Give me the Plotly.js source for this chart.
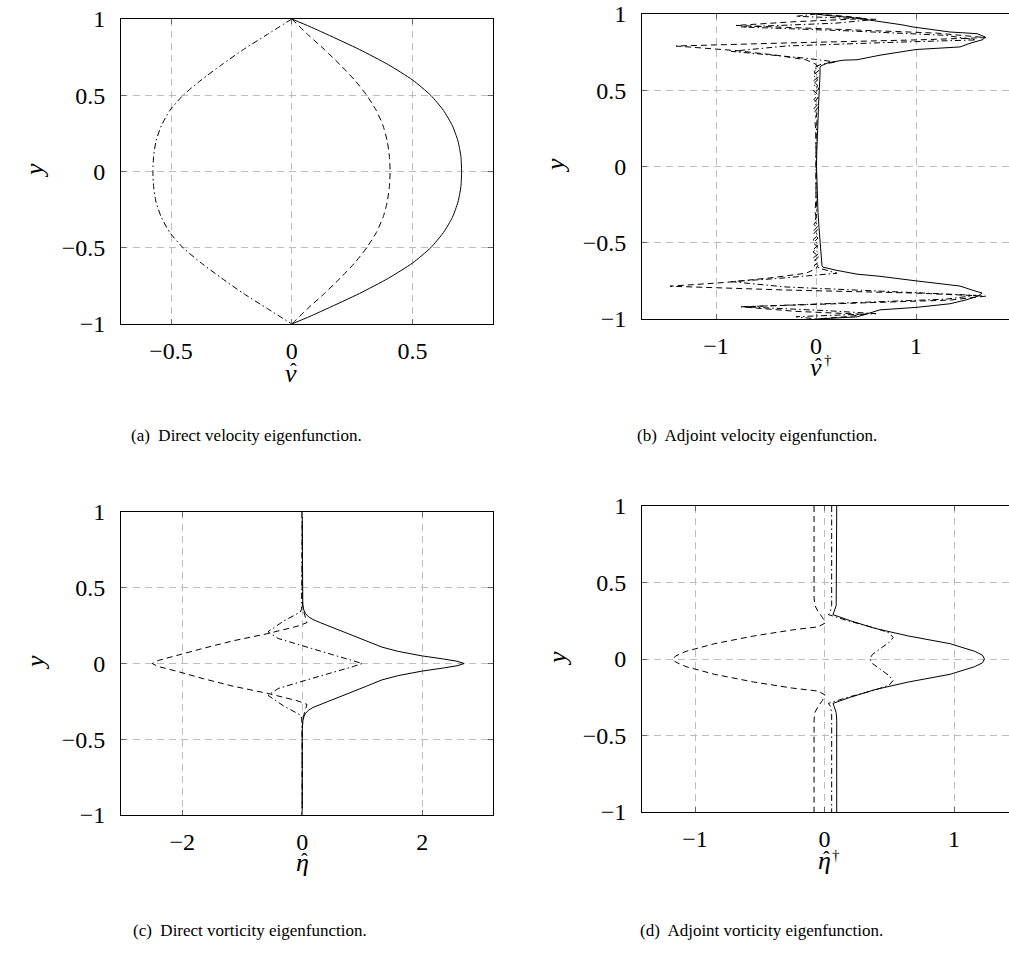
<!DOCTYPE html>
<html>
<head>
<meta charset="utf-8">
<script src="https://cdn.plot.ly/plotly-3.0.1.min.js"></script>
<style>
  html, body { margin: 0; padding: 0; overflow: hidden; background: #fff; }
  #fig { width: 1060px; height: 957px; }
</style>
</head>
<body>
<div id="fig"></div>
<script>
// ---- (a) direct velocity eigenfunction: |v|, Re(v), Im(v) against y ----
const vAbsY  = [1, 0.95, 0.9, 0.8, 0.7, 0.6, 0.5, 0.4, 0.3, 0.2, 0.1, 0,
                -0.1, -0.2, -0.3, -0.4, -0.5, -0.6, -0.7, -0.8, -0.9, -0.95, -1];
const vAbsX  = [0, 0.075, 0.145, 0.28, 0.40, 0.50, 0.575, 0.628, 0.665, 0.688, 0.700, 0.703,
                0.700, 0.688, 0.665, 0.628, 0.575, 0.50, 0.40, 0.28, 0.145, 0.075, 0];
const vReY   = [1, 0.9, 0.8, 0.7, 0.6, 0.5, 0.4, 0.3, 0.2, 0.1, 0,
                -0.1, -0.2, -0.3, -0.4, -0.5, -0.6, -0.7, -0.8, -0.9, -1];
const vReX   = [0, 0.065, 0.135, 0.20, 0.26, 0.31, 0.35, 0.378, 0.395, 0.404, 0.407,
                0.404, 0.395, 0.378, 0.35, 0.31, 0.26, 0.20, 0.135, 0.065, 0];
const vImY   = [1, 0.9, 0.8, 0.7, 0.6, 0.5, 0.4, 0.3, 0.2, 0.1, 0,
                -0.1, -0.2, -0.3, -0.4, -0.5, -0.6, -0.7, -0.8, -0.9, -1];
const vImX   = [0, -0.10, -0.20, -0.29, -0.375, -0.45, -0.505, -0.54, -0.562, -0.572, -0.575,
                -0.572, -0.562, -0.54, -0.505, -0.45, -0.375, -0.29, -0.20, -0.10, 0];

// ---- (b) adjoint velocity eigenfunction ----
const avAbsY = [1.0, 0.99, 0.976, 0.954, 0.93, 0.915, 0.9, 0.882, 0.871, 0.85, 0.832, 0.81, 0.784, 0.767, 0.73, 0.70, 0.697, 0.68, 0.66, 0.65,
                0.6, 0.5, 0.4, 0.3, 0.2, 0.1, 0, -0.1, -0.2, -0.3, -0.4, -0.5, -0.6,
                -0.65, -0.66, -0.68, -0.706, -0.72, -0.75, -0.784, -0.81, -0.83, -0.85, -0.875, -0.90, -0.924, -0.94, -0.965, -0.986, -1.0];
const avAbsX = [0, 0.12, 0.37, 0.61, 0.85, 0.97, 1.15, 1.34, 1.61, 1.69, 1.67, 1.55, 1.44, 1.0, 0.64, 0.41, 0.27, 0.12, 0.05, 0.04,
                0.04, 0.03, 0.025, 0.02, 0.012, 0.008, 0.005, 0.008, 0.012, 0.02, 0.03, 0.04, 0.05,
                0.06, 0.07, 0.2, 0.41, 0.64, 1.0, 1.44, 1.56, 1.66, 1.62, 1.5, 1.34, 1.0, 0.64, 0.5, 0.41, 0];
const avReY  = [1.0, 0.985, 0.97, 0.95, 0.925, 0.9, 0.875, 0.845, 0.83, 0.81, 0.79, 0.76, 0.73, 0.70, 0.67, 0.65,
                0.62, 0.59, 0.56, 0.53, 0.5, 0.47, 0.44, 0.41, 0.38, 0.35, 0.3, 0.2, 0.1, 0,
                -0.1, -0.2, -0.3, -0.35, -0.38, -0.41, -0.44, -0.47, -0.5, -0.53, -0.56, -0.59, -0.62,
                -0.65, -0.67, -0.70, -0.73, -0.76, -0.785, -0.81, -0.83, -0.85, -0.876, -0.90, -0.92, -0.95, -0.97, -0.985, -1.0];
const avReX  = [0, 0.3, 0.5, -0.2, -0.8, 0.2, 1.2, 1.7, 1.0, -0.3, -1.4, -0.8, -0.4, -0.1, 0.0, 0.02,
                -0.02, 0.03, -0.03, 0.02, -0.03, 0.02, -0.02, 0.02, -0.02, 0.01, -0.01, 0.0, 0.0, 0.0,
                0.0, 0.0, -0.01, 0.01, -0.02, 0.02, -0.02, 0.02, -0.03, 0.02, -0.03, 0.03, -0.02,
                0.02, 0.0, -0.1, -0.45, -0.9, -1.46, -0.3, 1.0, 1.7, 1.34, 0.2, -0.75, -0.2, 0.5, 0.3, 0];
const avImY  = [1.0, 0.985, 0.965, 0.94, 0.915, 0.89, 0.86, 0.83, 0.815, 0.79, 0.755, 0.735, 0.71, 0.685, 0.67, 0.65,
                0.63, 0.60, 0.57, 0.54, 0.51, 0.48, 0.45, 0.42, 0.39, 0.36, 0.3, 0.2, 0.1, 0,
                -0.1, -0.2, -0.3, -0.36, -0.39, -0.42, -0.45, -0.48, -0.51, -0.54, -0.57, -0.60, -0.63,
                -0.65, -0.67, -0.70, -0.735, -0.755, -0.79, -0.82, -0.845, -0.87, -0.895, -0.92, -0.945, -0.965, -0.985, -1.0];
const avImX  = [0, -0.2, 0.6, 0.2, -0.75, 0.3, 1.3, 1.6, 0.8, -0.3, -0.85, -0.5, -0.1, 0.2, 0.05, -0.02,
                0.03, -0.03, 0.02, -0.03, 0.03, -0.02, 0.02, -0.02, 0.02, -0.01, 0.01, 0.0, 0.0, 0.0,
                0.0, 0.0, 0.01, -0.01, 0.02, -0.02, 0.02, -0.03, 0.03, -0.02, 0.03, -0.03, 0.02,
                -0.02, 0.05, 0.21, -0.4, -0.85, -0.3, 0.8, 1.6, 1.3, 0.3, -0.73, 0.1, 0.6, -0.2, 0];

// ---- (c) direct vorticity eigenfunction ----
const etaAbsY = [1, 0.45, 0.42, 0.38, 0.35, 0.33, 0.31, 0.29, 0.27, 0.25, 0.2, 0.15, 0.108, 0.08, 0.05, 0.03, 0.015, 0,
                 -0.015, -0.03, -0.05, -0.08, -0.108, -0.15, -0.2, -0.25, -0.27, -0.29, -0.31, -0.33, -0.35, -0.38, -0.42, -0.45, -1];
const etaAbsX = [0, 0, 0.003, 0.01, 0.03, 0.055, 0.1, 0.18, 0.3, 0.43, 0.75, 1.07, 1.33, 1.6, 2.0, 2.35, 2.58, 2.7,
                 2.58, 2.35, 2.0, 1.6, 1.33, 1.07, 0.75, 0.43, 0.3, 0.18, 0.1, 0.055, 0.03, 0.01, 0.003, 0, 0];
const etaReY  = [1, 0.42, 0.35, 0.3, 0.27, 0.25, 0.24, 0.196, 0.15, 0.1, 0.05, 0.02, 0,
                 -0.02, -0.05, -0.1, -0.15, -0.196, -0.24, -0.25, -0.27, -0.3, -0.35, -0.42, -1];
const etaReX  = [0, 0, 0.02, 0.06, 0.08, -0.05, -0.14, -0.59, -1.15, -1.65, -2.1, -2.4, -2.5,
                 -2.4, -2.1, -1.65, -1.15, -0.59, -0.14, -0.05, 0.08, 0.06, 0.02, 0, 0];
const etaImY  = [1, 0.42, 0.36, 0.34, 0.28, 0.21, 0.165, 0.1, 0.05, 0.02, 0,
                 -0.02, -0.05, -0.1, -0.165, -0.21, -0.28, -0.34, -0.36, -0.42, -1];
const etaImX  = [0, 0, -0.01, -0.03, -0.31, -0.57, -0.4, 0.15, 0.58, 0.85, 1.0,
                 0.85, 0.58, 0.15, -0.4, -0.57, -0.31, -0.03, -0.01, 0, 0];

// ---- (d) adjoint vorticity eigenfunction ----
const aetaAbsY = [1, 0.4, 0.35, 0.32, 0.29, 0.25, 0.2, 0.15, 0.1, 0.05, 0.025, 0,
                  -0.025, -0.05, -0.1, -0.15, -0.2, -0.25, -0.29, -0.32, -0.35, -0.4, -1];
const aetaAbsX = [0.094, 0.094, 0.09, 0.078, 0.065, 0.2, 0.39, 0.65, 0.97, 1.16, 1.22, 1.235,
                  1.22, 1.16, 0.97, 0.65, 0.39, 0.2, 0.065, 0.078, 0.09, 0.094, 0.094];
const aetaReY  = [1, 0.4, 0.35, 0.31, 0.27, 0.235, 0.21, 0.19, 0.15, 0.1, 0.05, 0.02, 0,
                  -0.02, -0.05, -0.1, -0.15, -0.19, -0.21, -0.235, -0.27, -0.31, -0.35, -0.4, -1];
const aetaReX  = [-0.081, -0.081, -0.075, -0.05, -0.015, 0.004, -0.05, -0.25, -0.55, -0.85, -1.07, -1.15, -1.17,
                  -1.15, -1.07, -0.85, -0.55, -0.25, -0.05, 0.004, -0.015, -0.05, -0.075, -0.081, -0.081];
const aetaImY  = [1, 0.35, 0.31, 0.29, 0.25, 0.2, 0.17, 0.14, 0.11, 0.06, 0.03, 0,
                  -0.03, -0.06, -0.11, -0.14, -0.17, -0.2, -0.25, -0.29, -0.31, -0.35, -1];
const aetaImX  = [0.055, 0.055, 0.045, 0.03, 0.18, 0.4, 0.5, 0.53, 0.5, 0.42, 0.37, 0.35,
                  0.37, 0.42, 0.5, 0.53, 0.5, 0.4, 0.18, 0.03, 0.045, 0.055, 0.055];

// ---- tick labels ----
const yTickVals = [-1, -0.5, 0, 0.5, 1];
const yTickText = ['\u22121', '\u22120.5', '0', '0.5', '1'];
const aTickVals = [-0.5, 0, 0.5];
const aTickText = ['\u22120.5', '0', '0.5'];
const bTickVals = [-1, 0, 1];
const bTickText = ['\u22121', '0', '1'];
const cTickVals = [-2, 0, 2];
const cTickText = ['\u22122', '0', '2'];
const dTickVals = [-1, 0, 1];
const dTickText = ['\u22121', '0', '1'];

// ---- page geometry (pixels) ----
const W = 1060, H = 957;
const SERIF = 'Liberation Serif';
const boxes = {
  a: {l: 121, r: 493, t: 19, b: 324},
  b: {l: 642, r: 1030, t: 14, b: 319},
  c: {l: 121, r: 493, t: 512, b: 815},
  d: {l: 642, r: 1030, t: 506, b: 812}
};
const dashStyle = {abs: 'solid', re: '6px,4px', im: '6px,3px,1.5px,3px'};

function line(x, y, kind, ax, shape) {
  return {
    x: x, y: y, xaxis: ax.x, yaxis: ax.y, type: 'scatter', mode: 'lines',
    line: {color: '#000', width: 1, dash: dashStyle[kind], shape: shape || 'linear', smoothing: 0.6},
    hoverinfo: 'skip', showlegend: false
  };
}

const traces = [
  line(vAbsX, vAbsY, 'abs', {x: 'x', y: 'y'}, 'spline'),
  line(vReX, vReY, 're', {x: 'x', y: 'y'}, 'spline'),
  line(vImX, vImY, 'im', {x: 'x', y: 'y'}, 'spline'),
  line(avAbsX, avAbsY, 'abs', {x: 'x2', y: 'y2'}),
  line(avReX, avReY, 're', {x: 'x2', y: 'y2'}),
  line(avImX, avImY, 'im', {x: 'x2', y: 'y2'}),
  line(etaAbsX, etaAbsY, 'abs', {x: 'x3', y: 'y3'}),
  line(etaReX, etaReY, 're', {x: 'x3', y: 'y3'}),
  line(etaImX, etaImY, 'im', {x: 'x3', y: 'y3'}),
  line(aetaAbsX, aetaAbsY, 'abs', {x: 'x4', y: 'y4'}),
  line(aetaReX, aetaReY, 're', {x: 'x4', y: 'y4'}),
  line(aetaImX, aetaImY, 'im', {x: 'x4', y: 'y4'})
];

function xAxis(box, range, vals, text, yName) {
  return {
    domain: [box.l / W, box.r / W], range: range, anchor: yName,
    tickmode: 'array', tickvals: vals, ticktext: text,
    showline: true, linecolor: '#000', linewidth: 1, mirror: 'ticks',
    ticks: 'inside', ticklen: 5, tickcolor: '#666', tickwidth: 1,
    showgrid: true, gridcolor: '#bdbdbd', griddash: '7px,5px', gridwidth: 1,
    zeroline: false, ticklabelstandoff: 5,
    tickfont: {family: SERIF, size: 24, color: '#000'}, fixedrange: true
  };
}
function yAxis(box, vals, text, xName) {
  return {
    domain: [1 - box.b / H, 1 - box.t / H], range: [-1, 1], anchor: xName,
    tickmode: 'array', tickvals: vals, ticktext: text,
    showline: true, linecolor: '#000', linewidth: 1, mirror: 'ticks',
    ticks: 'inside', ticklen: 5, tickcolor: '#666', tickwidth: 1,
    showgrid: true, gridcolor: '#bdbdbd', griddash: '7px,5px', gridwidth: 1,
    zeroline: false, ticklabelstandoff: 10,
    tickfont: {family: SERIF, size: 24, color: '#000'}, fixedrange: true
  };
}

function label(text, px, py, size, angle, italic) {
  return {
    text: italic ? '<i>' + text + '</i>' : text,
    x: px / W, y: 1 - py / H, xref: 'paper', yref: 'paper',
    xanchor: 'center', yanchor: 'middle', showarrow: false, textangle: angle || 0,
    font: {family: SERIF, size: size, color: '#000'}
  };
}

const annotations = [
  label('y', 35, 171, 26, -90, true),
  label('y', 556, 166, 26, -90, true),
  label('y', 35, 663, 26, -90, true),
  label('y', 557, 659, 26, -90, true),
  // x-axis symbols: letter, hat, dagger
  label('v', 291, 373, 26, 0, true),
  label('\u02c6', 293, 371, 20, 0, false),
  label('v', 816, 368, 26, 0, true),
  label('\u02c6', 818, 366, 20, 0, false),
  label('\u2020', 828, 360, 15, 0, false),
  label('\u03b7', 302, 862, 26, 0, true),
  label('\u02c6', 304, 861, 20, 0, false),
  label('\u03b7', 824, 860, 26, 0, true),
  label('\u02c6', 826, 859, 20, 0, false),
  label('\u2020', 836, 855, 15, 0, false),
  label('(a)  Direct velocity eigenfunction.', 246, 435, 17),
  label('(b)  Adjoint velocity eigenfunction.', 757, 435, 17),
  label('(c)  Direct vorticity eigenfunction.', 250, 930, 17),
  label('(d)  Adjoint vorticity eigenfunction.', 761, 930, 17)
];

const layout = {
  width: W, height: H,
  margin: {l: 0, r: 0, t: 0, b: 0},
  paper_bgcolor: '#fff', plot_bgcolor: '#fff',
  showlegend: false,
  xaxis:  xAxis(boxes.a, [-0.707, 0.833], aTickVals, aTickText, 'y'),
  yaxis:  yAxis(boxes.a, yTickVals, yTickText, 'x'),
  xaxis2: xAxis(boxes.b, [-1.74, 2.14], bTickVals, bTickText, 'y2'),
  yaxis2: yAxis(boxes.b, yTickVals, yTickText, 'x2'),
  xaxis3: xAxis(boxes.c, [-3.02, 3.18], cTickVals, cTickText, 'y3'),
  yaxis3: yAxis(boxes.c, yTickVals, yTickText, 'x3'),
  xaxis4: xAxis(boxes.d, [-1.41, 1.587], dTickVals, dTickText, 'y4'),
  yaxis4: yAxis(boxes.d, yTickVals, yTickText, 'x4'),
  annotations: annotations
};

Plotly.newPlot('fig', traces, layout, {staticPlot: true, displayModeBar: false});
</script>
</body>
</html>
